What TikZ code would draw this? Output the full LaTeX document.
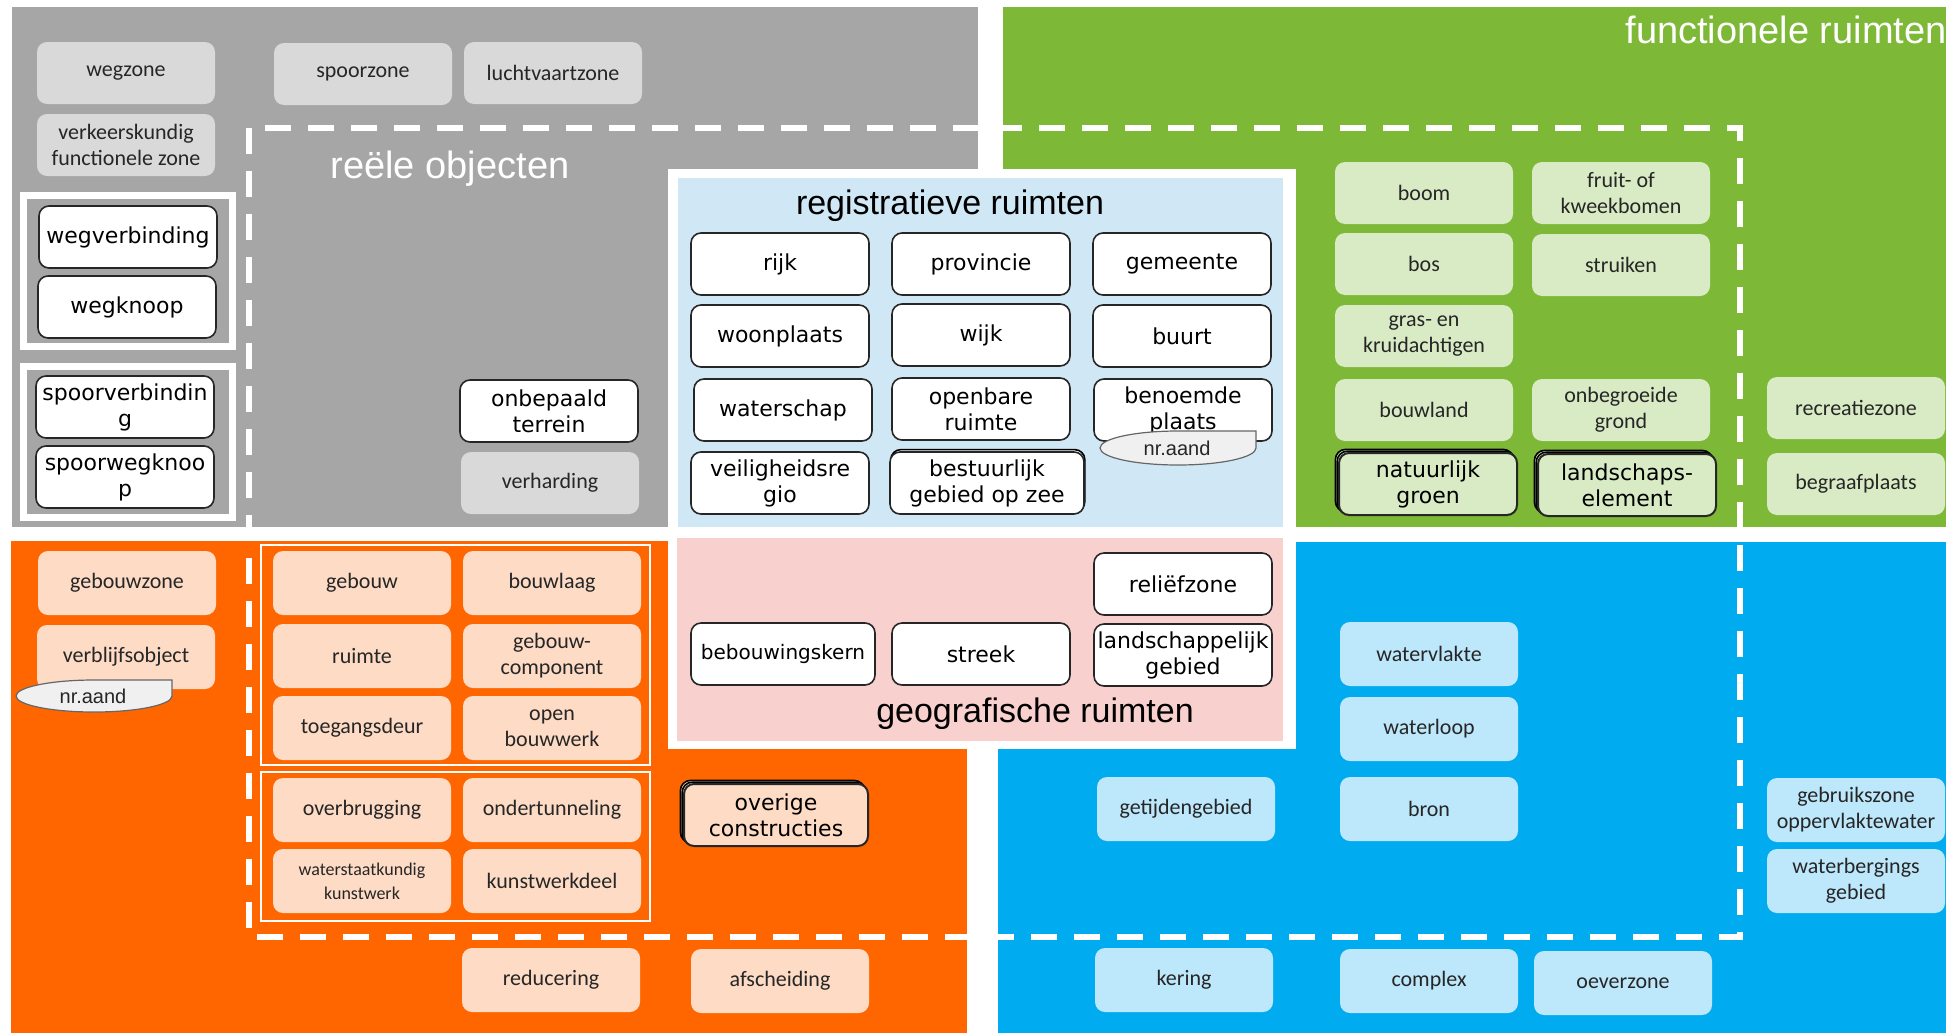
\documentclass[tikz,border=0pt]{standalone}
\usepackage{fontspec}
\usepackage{tikz}
\usetikzlibrary{shadows}
\newfontfamily\carlito{Carlito}
\newfontfamily\verdana{DejaVu Sans}
\newfontfamily\arial{Liberation Sans}
\definecolor{panelgrey}{RGB}{166,166,166}
\definecolor{panelgreen}{RGB}{125,184,55}
\definecolor{panelorange}{RGB}{255,102,0}
\definecolor{panelblue}{RGB}{0,171,240}
\definecolor{zonegrey}{RGB}{217,217,217}
\definecolor{zonegreen}{RGB}{216,235,196}
\definecolor{zonepeach}{RGB}{253,219,197}
\definecolor{zoneaqua}{RGB}{189,231,251}
\definecolor{regblue}{RGB}{208,232,245}
\definecolor{geopink}{RGB}{248,208,206}
\definecolor{calloutgrey}{RGB}{240,240,240}

\begin{document}
\begin{tikzpicture}[x=0.5pt,y=-0.5pt,
    zone/.style={rounded corners=5pt,minimum width=89pt,minimum height=31pt,inner sep=1pt,
        align=center,text=black!85,font=\carlito\fontsize{11}{13}\selectfont},
    reg/.style={draw=black!85,line width=0.8pt,fill=white,rounded corners=5pt,minimum width=89pt,
        minimum height=31pt,inner sep=1pt,align=center,font=\verdana\fontsize{11}{13}\selectfont},
    title/.style={font=\arial\fontsize{19}{21}\selectfont,inner sep=0pt},
    callout/.style={fill=calloutgrey,draw=black!60,line width=0.6pt}]
\useasboundingbox (0,0) rectangle (1946,1033);

% panels
\fill[panelgrey] (12,7) rectangle (978,527);
\fill[panelgreen] (1003,7) rectangle (1946,527);
\fill[panelorange] (11,541) rectangle (967,1033);
\fill[panelblue] (998,542) rectangle (1946,1033);
\draw[white,line width=3pt,dash pattern=on 13pt off 8.5pt] (249,128) rectangle (1740,937);

% registratieve en geografische ruimten
\fill[white] (668,169) rectangle (1296,749);
\fill[regblue] (678,178) rectangle (1283,527);
\fill[geopink] (677,538) rectangle (1283,741);

% kaders
\draw[white,line width=3.5pt] (23,195) rectangle (232,346);
\draw[white,line width=3.5pt] (23,366) rectangle (232,517);
\draw[white,line width=1pt] (261,545) rectangle (650,765);
\draw[white,line width=1pt] (261,772) rectangle (650,921);

\node[title,white] (reeel) at (450,169) {reële objecten};
\node[title,white,anchor=east] (functioneel) at (1947,30) {functionele ruimten};
\node[title,font=\arial\fontsize{17}{20}\selectfont] (registratief) at (950,206) {registratieve ruimten};
\node[title,font=\arial\fontsize{17}{20}\selectfont] (geografisch) at (1035,714) {geografische ruimten};

\begin{scope}[every node/.style={zone,fill=zonegrey}]
\node (wegzone) at (126,73) {wegzone};
\node (spoorzone) at (363,74) {spoorzone};
\node (luchtvaartzone) at (553,73) {luchtvaartzone};
\node (verkeerszone) at (126,145) {verkeerskundig\\functionele zone};
\node (verharding) at (550,483) {verharding};
\end{scope}

\begin{scope}[every node/.style={reg}]
\node (wegverbinding) at (128,237) {wegverbinding};
\node (wegknoop) at (127,307) {wegknoop};
\node (spoorverbinding) at (125,407) {spoorverbindin\\g};
\node (spoorwegknoop) at (125,477) {spoorwegknoo\\p};
\node (onbepaald) at (549,411) {onbepaald\\terrein};
\end{scope}

\begin{scope}[every node/.style={zone,fill=zonegreen}]
\node (boom) at (1424,193) {boom};
\node (fruit) at (1621,193) {fruit- of\\kweekbomen};
\node (bos) at (1424,264) {bos};
\node (struiken) at (1621,265) {struiken};
\node (gras) at (1424,336) {gras- en\\kruidachtigen};
\node (bouwland) at (1424,410) {bouwland};
\node (onbegroeid) at (1621,410) {onbegroeide\\grond};
\node (recreatie) at (1856,408) {recreatiezone};
\node (begraaf) at (1856,484) {begraafplaats};
\end{scope}

\begin{scope}[every node/.style={reg,fill=zonegreen,line width=1pt,
    double copy shadow={shadow xshift=-0.9pt,shadow yshift=0.9pt,fill=zonegreen,draw=black,line width=0.8pt}}]
\node (natuurgroen) at (1428,484) {natuurlijk\\groen};
\node (landschapselement) at (1627,485) {landschaps-\\element};
\end{scope}

\begin{scope}[every node/.style={reg}]
\node (rijk) at (780,264) {rijk};
\node (provincie) at (981,264) {provincie};
\node (gemeente) at (1182,264) {gemeente};
\node (woonplaats) at (780,336) {woonplaats};
\node (wijk) at (981,335) {wijk};
\node (buurt) at (1182,336) {buurt};
\node (waterschap) at (783,410) {waterschap};
\node (openbaar) at (981,409) {openbare\\ruimte};
\node (benoemd) at (1183,410) {benoemde\\plaats};
\node (veiligheid) at (780,483) {veiligheidsre\\gio};
\node[minimum width=97pt,copy shadow={shadow xshift=0.4pt,shadow yshift=1.2pt,fill=white,draw=black,line width=0.8pt}]
    (zeegebied) at (987,483) {bestuurlijk\\gebied op zee};
\node (reliefzone) at (1183,584) {reliëfzone};
\node[minimum width=92pt,font=\verdana\fontsize{10}{13}\selectfont] (bebouwingskern) at (783,654) {bebouwingskern};
\node (streek) at (981,654) {streek};
\node (landschappelijk) at (1183,655) {landschappelijk\\gebied};
\end{scope}

\draw[callout] (1256,431) -- (1256,448) arc[start angle=0,end angle=270,x radius=78,y radius=17] -- cycle;
\node[font=\arial\fontsize{10}{12}\selectfont,text=black!85] (nraandplaats) at (1177,448) {nr.aand};

\begin{scope}[every node/.style={zone,fill=zonepeach,minimum height=32pt}]
\node (gebouwzone) at (127,583) {gebouwzone};
\node (verblijf) at (126,657) {verblijfsobject};
\node (gebouw) at (362,583) {gebouw};
\node (bouwlaag) at (552,583) {bouwlaag};
\node (ruimte) at (362,656) {ruimte};
\node (component) at (552,656) {gebouw-\\component};
\node (deur) at (362,728) {toegangsdeur};
\node (openbouw) at (552,728) {open\\bouwwerk};
\node (overbrugging) at (362,810) {overbrugging};
\node (ondertunneling) at (552,810) {ondertunneling};
\node[font=\carlito\fontsize{9}{12}\selectfont] (kunstwerk) at (362,881) {waterstaatkundig\\kunstwerk};
\node (kunstwerkdeel) at (552,881) {kunstwerkdeel};
\node (reducering) at (551,980) {reducering};
\node (afscheiding) at (780,981) {afscheiding};
\end{scope}

\node[reg,fill=zonepeach,minimum width=92pt,minimum height=31pt,line width=1pt,
    double copy shadow={shadow xshift=-0.9pt,shadow yshift=0.9pt,fill=zonepeach,draw=black,line width=0.8pt}]
    (overige) at (776,815) {overige\\constructies};

\draw[callout] (172,680) -- (172,696) arc[start angle=0,end angle=270,x radius=78,y radius=16] -- cycle;
\node[font=\arial\fontsize{10}{12}\selectfont,text=black!85] (nraandverblijf) at (93,696) {nr.aand};

\begin{scope}[every node/.style={zone,fill=zoneaqua,minimum height=32pt}]
\node (watervlakte) at (1429,654) {watervlakte};
\node (waterloop) at (1429,729) {waterloop};
\node (bron) at (1429,809) {bron};
\node (getijden) at (1186,809) {getijdengebied};
\node (gebruikszone) at (1856,810) {gebruikszone\\oppervlaktewater};
\node (waterberging) at (1856,881) {waterbergings\\gebied};
\node (kering) at (1184,980) {kering};
\node (complex) at (1429,981) {complex};
\node (oeverzone) at (1623,983) {oeverzone};
\end{scope}
\end{tikzpicture}
\end{document}
